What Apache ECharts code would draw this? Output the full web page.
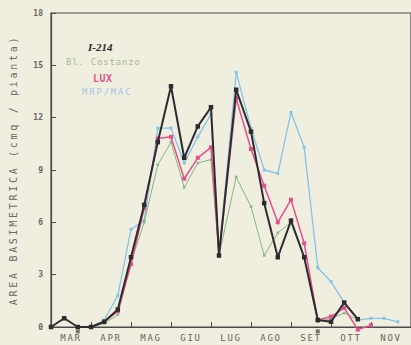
<!DOCTYPE html>
<html><head><meta charset="utf-8">
<script src="https://cdn.jsdelivr.net/npm/echarts@6/dist/echarts.min.js"></script>
<style>html,body{margin:0;padding:0;background:#efeedf}#c{width:411px;height:345px}</style>
</head><body><div id="c"></div>
<script>
// x positions: months since 1 March (sampling ~ 1st, 11th, 21st of each month)
const monthLabels = ['MAR','APR','MAG','GIU','LUG','AGO','SET','OTT','NOV'];
const yTickValues = [0,3,6,9,12,15,18];
const yName = 'AREA BASIMETRICA (cmq / pianta)';
const dates = [0,0.33,0.67,1,1.33,1.67,2,2.33,2.67,3,3.33,3.67,4,4.2,4.63,5,5.33,5.67,6,6.33,6.67,7,7.33,7.67,8,8.33,8.67];
const seriesNames = ['I-214','Bl. Costanzo','LUX','MRP/MAC'];
const i214      = [0,0.5,0,0,0.3,1.0,4.0,7.0,10.6,13.8,9.7,11.5,12.6,4.1,13.6,11.2,7.1,4.0,6.1,4.0,0.4,0.3,1.4,0.45,null,null,null];
const costanzo  = [null,null,null,0,0.2,0.7,3.7,6.0,9.3,10.6,8.0,9.4,9.6,4.1,8.6,6.9,4.1,5.4,6.0,4.0,0.3,0.5,0.8,0.4,null,null,null];
const lux       = [null,null,null,0,0.3,0.9,3.6,6.8,10.8,10.9,8.5,9.7,10.3,4.1,13.1,10.2,8.1,6.0,7.3,4.8,0.4,0.6,1.1,-0.15,0.1,null,null];
const mrp       = [null,null,null,0,0.4,1.8,5.6,6.1,11.4,11.4,9.4,10.9,12.2,4.1,14.6,11.4,9.0,8.8,12.3,10.3,3.4,2.6,1.4,0.4,0.5,0.5,0.3];
const markDates = [0.67, 6.67];
const markVals  = [-0.25, -0.25];

const colors = ['#2e2b2e','#86b882','#e4508a','#86c4e6'];
const pair = (ys) => dates.map((d,i)=>[d, ys[i]]).filter(p=>p[1]!==null);

const chart = echarts.init(document.getElementById('c'), null, {renderer:'svg'});
const lineS = (name, ys, color, w, sym, symSize, z) => ({
  name, type:'line', data: pair(ys), z, clip:false,
  lineStyle:{color, width:w}, itemStyle:{color},
  symbol: sym, symbolSize: symSize, showSymbol:true
});
chart.setOption({
  backgroundColor:'#efeedf',
  animation:false,
  grid:{left:45, top:13, bottom:18, width:378, show:true, borderColor:'#4a4a4a', borderWidth:1.2},
  xAxis:{type:'value', min:0, max:9,
    axisLine:{show:true, lineStyle:{color:'#4a4a4a', width:1.2}},
    axisTick:{show:true, inside:true, length:5, customValues:[1,2,3,4,5,6,7,8], lineStyle:{color:'#4a4a4a'}},
    axisLabel:{customValues:[0.5,1.5,2.5,3.5,4.5,5.5,6.5,7.5,8.5], formatter:v=>monthLabels[Math.floor(v)],
      color:'#666', fontSize:9, fontFamily:'DejaVu Sans Mono', margin:6},
    splitLine:{show:false}},
  yAxis:{type:'value', min:0, max:18, interval:3,
    name:yName, nameLocation:'middle', nameGap:33, nameRotate:90,
    nameTextStyle:{color:'#6a6a6a', fontSize:10, fontFamily:'DejaVu Sans Mono'},
    axisLine:{show:true, lineStyle:{color:'#4a4a4a', width:1.2}},
    axisTick:{show:true, inside:true, length:5, lineStyle:{color:'#4a4a4a'}},
    axisLabel:{color:'#666', fontSize:8, fontWeight:'bold', fontFamily:'DejaVu Sans Mono', margin:8,
      formatter:v=> yTickValues.includes(v)? String(v):''},
    splitLine:{show:false}},
  series:[
    lineS(seriesNames[3], mrp, colors[3], 1.3, 'rect', 3, 2),
    lineS(seriesNames[1], costanzo, colors[1], 1, 'rect', 2.5, 3),
    lineS(seriesNames[2], lux, colors[2], 1.5, 'rect', 4, 4),
    lineS(seriesNames[0], i214, colors[0], 2, 'rect', 4.5, 5),
    {type:'scatter', data: markDates.map((d,i)=>[d, markVals[i]]), clip:false, symbol:'rect', symbolSize:4,
     itemStyle:{color:'#555'}, z:6}
  ],
  graphic:[
    {type:'text', left:88, top:41, style:{text:seriesNames[0], fill:'#2e2b2e', font:'italic bold 11px "Liberation Serif"'}},
    {type:'text', left:66, top:57, style:{text:seriesNames[1], fill:'#a9b79c', font:'9px "DejaVu Sans Mono"'}},
    {type:'text', left:93, top:73, style:{text:seriesNames[2], fill:'#e05488', font:'bold 10px "DejaVu Sans Mono"'}},
    {type:'text', left:82, top:87, style:{text:seriesNames[3], fill:'#a6c8e6', font:'9px "DejaVu Sans Mono"'}}
  ]
});
function spaceText(){
  document.querySelectorAll('#c svg text').forEach(t=>{
    const s=t.textContent; let ls=0;
    if (s===yName) ls=2.7;
    else if (monthLabels.includes(s)) ls=1.8;
    else if (s===seriesNames[1]) ls=0.8;
    else if (s===seriesNames[3]) ls=1.8;
    else if (s===seriesNames[2]) ls=0.5;
    if (ls) t.setAttribute('letter-spacing', ls+'px');
  });
}
spaceText();
chart.on('finished', spaceText);
setTimeout(spaceText, 50);
</script>
</body></html>
